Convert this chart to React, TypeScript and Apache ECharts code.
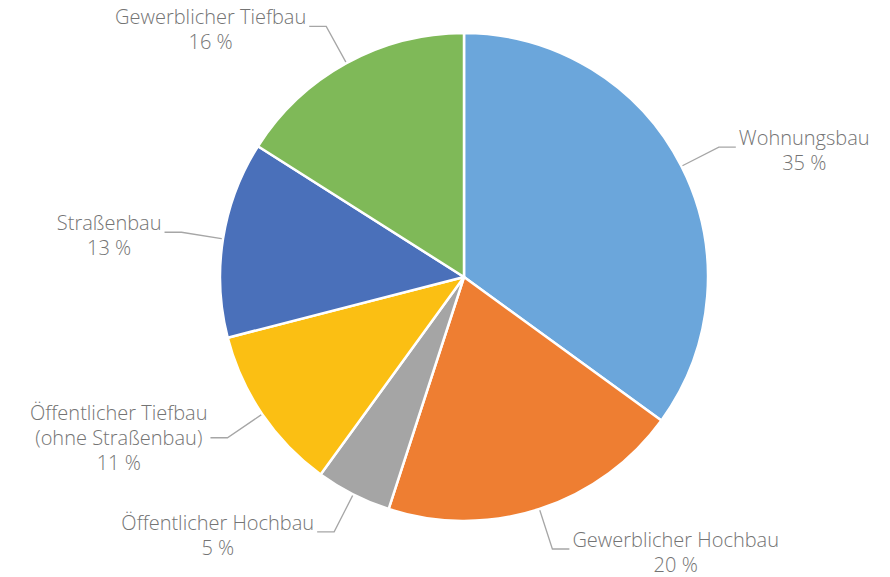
import React, { useEffect, useRef } from "react";
import * as echarts from "echarts";

const categories = [
  "Wohnungsbau",
  "Gewerblicher Hochbau",
  "Öffentlicher Hochbau",
  "Öffentlicher Tiefbau\n(ohne Straßenbau)",
  "Straßenbau",
  "Gewerblicher Tiefbau",
];
const shares = [35, 20, 5, 11, 13, 16];
const colors = ["#6ba6db", "#ee7e32", "#a5a5a5", "#fbbf13", "#4a70ba", "#7fb958"];

export default function App() {
  const ref = useRef<HTMLDivElement>(null);
  useEffect(() => {
    if (!ref.current) return;
    const chart = echarts.init(ref.current, null, { renderer: "svg" });
    chart.setOption({
      animation: false,
      backgroundColor: "#ffffff",
      series: [
        {
          type: "pie",
          center: [464, 277],
          radius: 244,
          startAngle: 90,
          clockwise: true,
          avoidLabelOverlap: false,
          data: categories.map((name, i) => {
            const nLines = name.split("\n").length + 1;
            return {
              name,
              value: shares[i],
              itemStyle: { color: colors[i] },
              label: { padding: nLines > 2 ? 0 : [6, 0, 0, 0] },
            };
          }),
          itemStyle: { borderColor: "#ffffff", borderWidth: 2.5 },
          label: {
            show: true,
            position: "outside",
            distanceToLabelLine: 3,
            formatter: (p: any) => {
              const lines = String(p.name).split("\n");
              lines.push(p.value + " %");
              return lines.map((l: string) => "{a|" + l + "}").join("\n");
            },
            rich: {
              a: {
                fontFamily: "Open Sans",
                fontWeight: 300,
                fontSize: 20,
                lineHeight: 25,
                color: "#747474",
                align: "center",
              },
            },
          },
          labelLine: {
            show: true,
            length: 42,
            length2: 17,
            smooth: false,
            lineStyle: { color: "#a6a6a6", width: 1.3 },
          },
        },
      ],
    });
    return () => chart.dispose();
  }, []);
  return (
    <div
      ref={ref}
      style={{ position: "fixed", left: 0, top: 0, width: 890, height: 577 }}
    />
  );
}
